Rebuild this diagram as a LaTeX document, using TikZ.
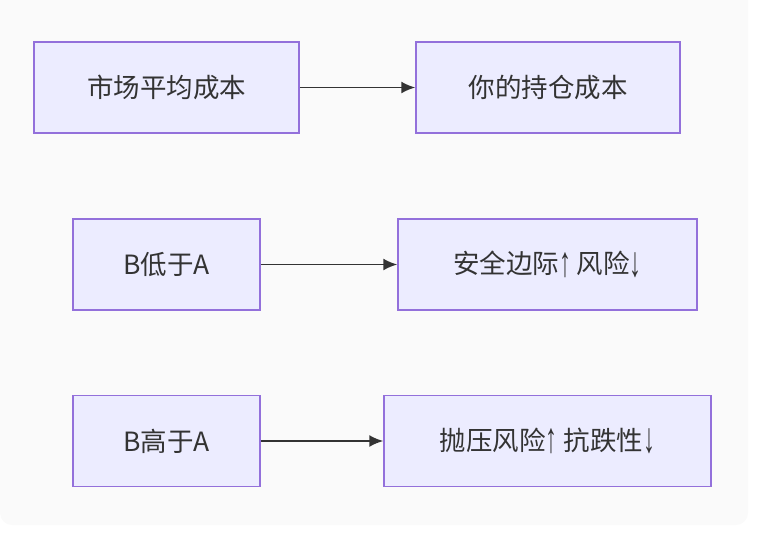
\documentclass[tikz,border=0pt]{standalone}
\usepackage{fontspec}
\usepackage{graphicx}
\setmainfont{Noto Sans CJK SC}
\newfontfamily\arrfont{Liberation Sans}
\usetikzlibrary{arrows.meta}
\definecolor{boxfill}{HTML}{ECECFF}
\definecolor{boxline}{HTML}{9370DB}
\definecolor{txt}{HTML}{333333}
\definecolor{bg}{HTML}{FAFAFA}
\newcommand{\up}{\raisebox{-0.1em}{\scalebox{0.9}[1.6]{\arrfont ↑}}}
\newcommand{\dn}{\raisebox{-0.1em}{\scalebox{0.9}[1.6]{\arrfont ↓}}}
\tikzset{
  cbox/.style={draw=boxline, fill=boxfill, line width=1.5pt, inner sep=0pt,
    minimum height=91pt, text=txt, font=\fontsize{26.5}{30}\selectfont},
  link/.style={draw=txt, line width=1.8pt, -{Latex[length=14pt,width=12pt]}}
}
\begin{document}
\begin{tikzpicture}[x=1pt,y=-1pt]
\useasboundingbox (0,0) rectangle (757,550);
% Background
\fill[bg, rounded corners=12pt] (0,-20) rectangle (748,525);
% Row 1
\node[cbox, minimum width=265pt] (market) at (166.5,87.5) {市场平均成本};
\node[cbox, minimum width=264pt] (mine) at (548,87.5) {你的持仓成本};
% Row 2
\node[cbox, minimum width=187pt] (low) at (166.5,264.5) {B低于A};
\node[cbox, minimum width=299pt] (safe) at (547.5,264.5) {安全边际\up\ 风险\dn};
% Row 3
\node[cbox, minimum width=187pt] (high) at (166.5,441) {B高于A};
\node[cbox, minimum width=327pt] (press) at (547.5,441) {抛压风险\up\ 抗跌性\dn};
% Arrows
\draw[link] (market) -- (mine);
\draw[link] (low) -- (safe);
\draw[link] (high) -- (press);
\end{tikzpicture}
\end{document}
